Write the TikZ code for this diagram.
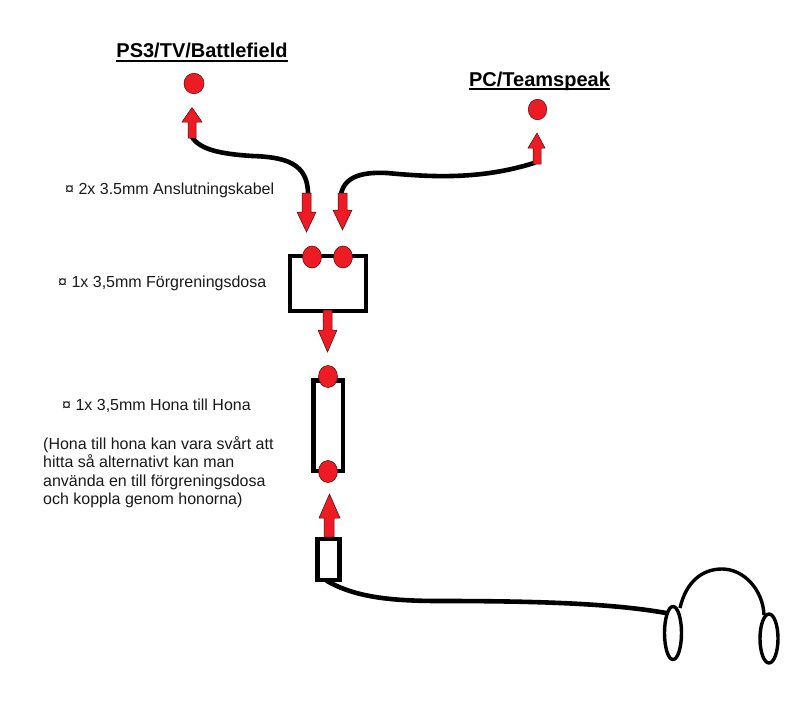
\documentclass[tikz,border=0pt]{standalone}
\usepackage{fontspec}
\usetikzlibrary{shapes.geometric}
\setmainfont{Liberation Sans}
\definecolor{paintred}{HTML}{ED1C24}
\tikzset{
  redmark/.style={fill=paintred,draw=black!70!paintred,line width=0.5pt},
  jack/.style={redmark,ellipse,inner sep=0pt},
  cable/.style={draw=black,line width=4.6pt,line cap=round,line join=round},
  thinwire/.style={draw=black,line width=3.4pt,line join=round},
  boxline/.style={draw=black,line width=4.5pt,fill=white,line join=miter,rectangle,inner sep=0pt},
  caption/.style={anchor=base west,inner sep=0pt,text=black!90,font=\fontsize{16}{18.5}\selectfont},
  heading/.style={anchor=base,inner sep=0pt,font=\fontsize{20}{22}\selectfont\bfseries},
  headrule/.style={draw=black,line width=2pt}
}
\begin{document}
\begin{tikzpicture}[x=1pt,y=-1pt]
\useasboundingbox (0,0) rectangle (801,709);
% headings
\node[heading] (tPS) at (202,58) {PS3/TV/Battlefield};
\node[heading] (tPC) at (539.5,86) {PC/Teamspeak};
\draw[headrule] ([yshift=-3.2pt]tPS.base west) -- ([yshift=-3.2pt]tPS.base east);
\draw[headrule] ([yshift=-3.2pt]tPC.base west) -- ([yshift=-3.2pt]tPC.base east);
% captions
\node[caption] (c1) at (65,194) {¤ 2x 3.5mm Anslutningskabel};
\node[caption] (c2) at (58,287) {¤ 1x 3,5mm Förgreningsdosa};
\node[caption] (c3) at (62,410) {¤ 1x 3,5mm Hona till Hona};
\node[caption,anchor=north west,align=left] (c4) at (43,436) {(Hona till hona kan vara svårt att\\hitta så alternativt kan man\\använda en till förgreningsdosa\\och koppla genom honorna)};
% named cable ends
\coordinate (a1foot) at (192,137);
\coordinate (a2top) at (308,194);
\coordinate (a3top) at (341,194);
\coordinate (a4foot) at (534,163);
\coordinate (plugfoot) at (327,581);
\coordinate (earL) at (666,613);
\coordinate (bandL) at (680,608);
\coordinate (bandR) at (764,615);
% cables
\draw[cable] (a1foot) .. controls (200,150) and (222,154) .. (252,156)
  .. controls (285,157) and (308,163) .. (a2top);
\draw[cable] (a3top) .. controls (345,175) and (365,172) .. (387,173)
  .. controls (430,177) and (480,180) .. (a4foot);
\draw[cable] (plugfoot) .. controls (355,597) and (390,601) .. (440,601)
  .. controls (530,601) and (610,603) .. (earL);
\draw[thinwire] (bandL) .. controls (686,582) and (702,569) .. (722,569)
  .. controls (744,569) and (763,590) .. (bandR);
% headphones
\draw[thinwire] (673,633) ellipse [x radius=8.5,y radius=26.5];
\draw[thinwire] (769,638.5) ellipse [x radius=9,y radius=24.5];
% boxes
\node[boxline,minimum width=76pt,minimum height=55pt] (splitter) at (328,283.5) {};
\node[boxline,minimum width=29.5pt,minimum height=90.5pt] (coupler) at (328,425.5) {};
\node[boxline,minimum width=22pt,minimum height=41pt] (plug) at (328.5,559.5) {};
% red jacks
\node[jack,minimum width=20pt,minimum height=20.5pt] (j1) at (194,83.5) {};
\node[jack,minimum width=18.5pt,minimum height=20.5pt] (j2) at (537.5,109.5) {};
\node[jack,minimum width=19pt,minimum height=22pt] (j3) at (312,257) {};
\node[jack,minimum width=19pt,minimum height=22pt] (j4) at (343,257) {};
\node[jack,minimum width=19pt,minimum height=22pt] (j5) at (328,376.5) {};
\node[jack,minimum width=19pt,minimum height=22pt] (j6) at (328,471.5) {};
% red arrows
\draw[redmark] (192,107.5) -- (202,122) -- (196,122) -- (196,138) -- (188,138) -- (188,122) -- (182,122) -- cycle;
\draw[redmark] (306.5,232) -- (316,212) -- (311,212) -- (311,193) -- (302,193) -- (302,212) -- (297,212) -- cycle;
\draw[redmark] (342.5,230) -- (352,210) -- (347,210) -- (347,193) -- (338,193) -- (338,210) -- (333,210) -- cycle;
\draw[redmark] (537,133) -- (545,148) -- (541,148) -- (541,164) -- (533,164) -- (533,148) -- (528,148) -- cycle;
\draw[redmark] (327.5,352) -- (337,330) -- (332,330) -- (332,310) -- (323,310) -- (323,330) -- (318,330) -- cycle;
\draw[redmark] (329.5,494) -- (340,518) -- (334,518) -- (334,537) -- (324,537) -- (324,518) -- (319,518) -- cycle;
\end{tikzpicture}
\end{document}
